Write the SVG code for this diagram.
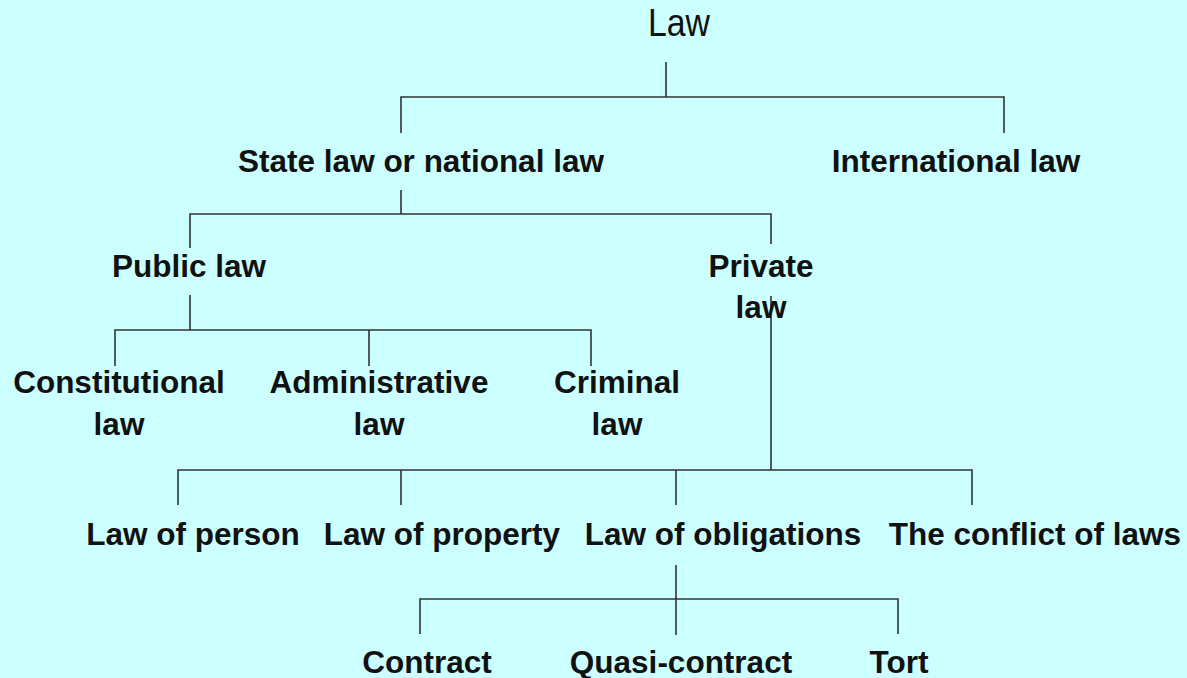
<svg xmlns="http://www.w3.org/2000/svg" width="1187" height="678" viewBox="0 0 1187 678">
<style>
.bg{fill:#ccffff}
.c{stroke:#333;stroke-width:1.6;fill:none}
.t{font-family:"Liberation Sans",Arial,sans-serif;font-size:31.5px;font-weight:bold;fill:#111;text-anchor:middle}
.r{font-family:"Liberation Sans",Arial,sans-serif;font-size:38px;fill:#111;text-anchor:middle}
</style>
<rect class="bg" x="0" y="0" width="1187" height="678"/>
<g id="connectors">
<path class="c" d="M666 62V97M401 133V97H1004V133"/>
<path class="c" d="M401 190V214M190 248V214H771V244"/>
<path class="c" d="M190 295V330M115 366V330H591V366M369 330V366"/>
<path class="c" d="M771 296V470M178 505V470H972V505M401 470V505M676 470V505"/>
<path class="c" d="M676 565V635M420 634V599H898V634"/>
</g>
<g id="n-law"><text class="r" x="679" y="36" textLength="62" lengthAdjust="spacingAndGlyphs">Law</text></g>
<g id="n-state"><text class="t" x="421" y="172">State law or national law</text></g>
<g id="n-intl"><text class="t" x="956" y="172">International law</text></g>
<g id="n-public"><text class="t" x="189" y="277">Public law</text></g>
<g id="n-private"><text class="t" x="761" y="277">Private</text><text class="t" x="761" y="318">law</text></g>
<g id="n-const"><text class="t" x="119" y="393">Constitutional</text><text class="t" x="119" y="435">law</text></g>
<g id="n-admin"><text class="t" x="379" y="393">Administrative</text><text class="t" x="379" y="435">law</text></g>
<g id="n-criminal"><text class="t" x="617" y="393">Criminal</text><text class="t" x="617" y="435">law</text></g>
<g id="n-person"><text class="t" x="193" y="545">Law of person</text></g>
<g id="n-property"><text class="t" x="442" y="545">Law of property</text></g>
<g id="n-oblig"><text class="t" x="723" y="545">Law of obligations</text></g>
<g id="n-conflict"><text class="t" x="1035" y="545">The conflict of laws</text></g>
<g id="n-contract"><text class="t" x="427" y="673">Contract</text></g>
<g id="n-quasi"><text class="t" x="681" y="673">Quasi-contract</text></g>
<g id="n-tort"><text class="t" x="899" y="673">Tort</text></g>
</svg>
